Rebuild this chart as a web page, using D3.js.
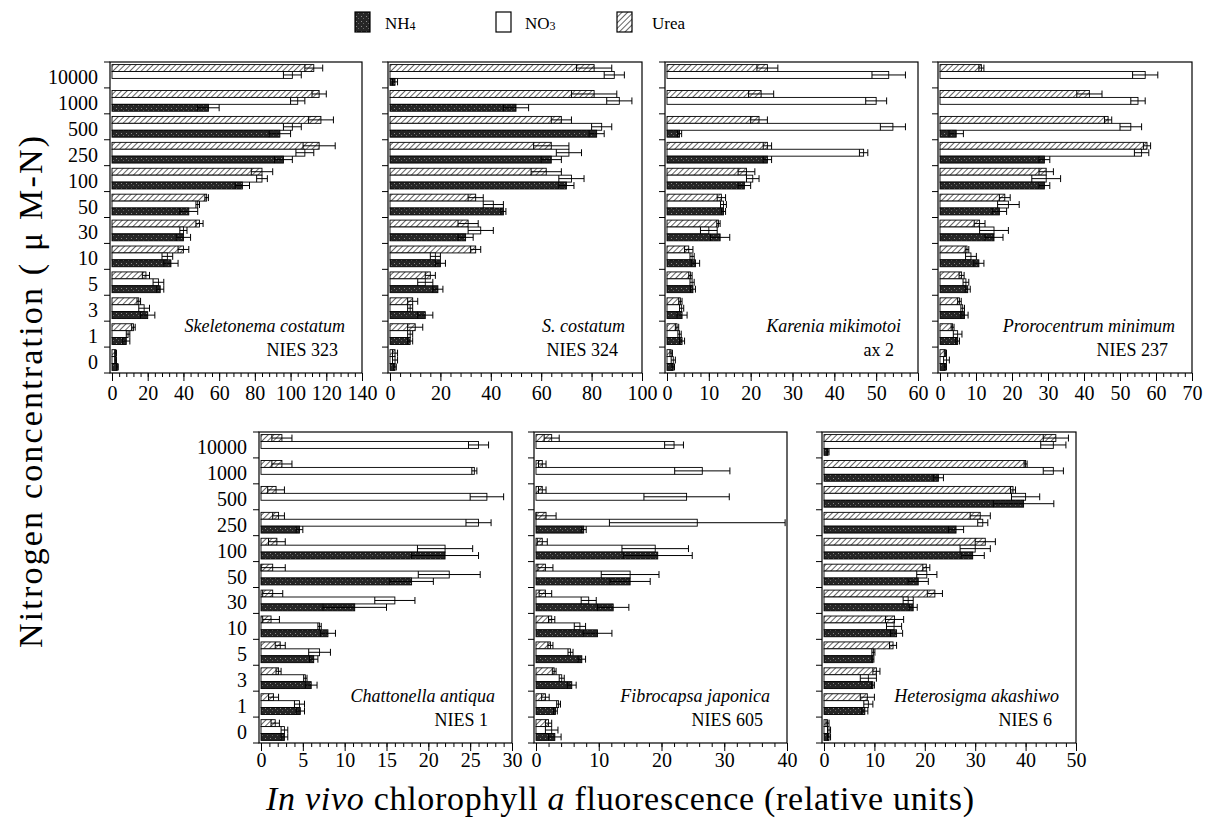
<!DOCTYPE html>
<html>
<head>
<meta charset="utf-8">
<script src="https://cdn.jsdelivr.net/npm/d3@7"></script>
<style>
  body { margin: 0; background: #fff; }
  svg, svg text { font-family: "Liberation Serif", "Times New Roman", serif !important; }
</style>
</head>
<body>
<div id="chart"></div>
<script>
// concentrations, top to bottom
const concentrations = ["10000", "1000", "500", "250", "100", "50", "30", "10", "5", "3", "1", "0"];
const seriesKeys = ["urea", "no3", "nh4"];

// [mean, sd], null = no growth / no bar
const p1Urea = [[113,5],[116,4],[117,7],[116,9],[84,6],[53,1],[49,2],[40,3],[19,2],[15,1],[12,1],[2,0.5]];
const p1No3  = [[101,5],[104,4],[101,5],[108,5],[84,3],[48,1],[40,2],[31,3],[26,3],[18,3],[9,1],[2,0.5]];
const p1Nh4  = [null,[54,6],[94,6],[96,5],[73,4],[43,5],[40,4],[33,4],[27,2],[20,4],[8,2],[3,0.5]];

const p2Urea = [[81,7],[81,9],[68,4],[64,7],[62,6],[34,3],[31,4],[34,2],[16,2],[9,2],[10,3],[2,1]];
const p2No3  = [[89,4],[91,5],[84,4],[71,5],[72,5],[41,4],[36,5],[18,2],[14,3],[8,1],[8,1],[2,1]];
const p2Nh4  = [[2,1],[50,5],[82,3],[64,4],[70,3],[45,1],[30,3],[20,2],[19,2],[14,3],[8,1],[2,0.5]];

const p3Urea = [[24,2.5],[22.5,3],[22,2],[24,1],[19,2],[13,1],[12.3,0.4],[5.2,1],[5.6,0.4],[3.2,0.4],[2.4,0.4],[1,0.3]];
const p3No3  = [[53,4],[50,2.5],[54,3],[47,1],[20.5,1.5],[13.5,0.7],[10,2],[6,0.5],[6,0.5],[3.5,0.5],[3,0.4],[1.5,0.5]];
const p3Nh4  = [null,null,[3,0.5],[24,1],[18.5,1.5],[13.5,0.5],[12.7,2.3],[6.8,1],[6.2,0.6],[3.6,1.2],[3.6,0.6],[1.5,0.3]];

const p4Urea = [[11.5,0.7],[41.5,3.5],[46.7,1],[57.5,1],[29.5,2],[18,1.5],[11,1.5],[7.5,0.5],[6,0.7],[5.4,0.5],[3.5,0.4],[1.5,0.3]];
const p4No3  = [[57,3.5],[55,2],[53,3],[56,2],[29.5,4],[19,3],[15,4],[8.6,1.5],[7.2,0.8],[6.3,0.5],[4.9,1.2],[1.8,0.8]];
const p4Nh4  = [null,null,[4.5,2],[29,1.5],[29,1.5],[16.5,2],[15,2.5],[10.8,1.4],[7.7,0.7],[6.8,1],[4.9,0.5],[1.5,0.3]];

const p5Urea = [[2.5,1.2],[2.5,1.2],[1.8,1],[2.1,0.7],[1.9,1],[1.4,1.5],[1.4,1.2],[1.2,1],[2.3,0.6],[2.1,0.3],[1.5,0.6],[1.7,0.5]];
const p5No3  = [[26,1.2],[25.5,0.3],[27,2],[26,1.5],[22,3.3],[22.5,3.7],[16,2.4],[7,0.2],[7,1.3],[5.3,0.2],[4.6,0.6],[2.8,0.4]];
const p5Nh4  = [null,null,null,[4.6,0.4],[22,4],[18,2.6],[11.2,3.8],[8,0.9],[6.3,0.5],[6,0.7],[4.7,0.5],[2.8,0.4]];

const p6Urea = [[2.5,1.2],[1,0.6],[1,0.6],[1.6,1.6],[1,0.8],[1.5,1.2],[1.5,1],[2.5,0.5],[2.3,0.4],[2.9,0.3],[1.5,0.6],[2,0.5]];
const p6No3  = [[22,1.5],[26.5,4.4],[24,6.8],[25.7,14],[19,5.3],[15,4.6],[8.4,1.2],[7,0.9],[5.5,0.4],[4.1,0.4],[3.6,0.3],[2.5,1]];
const p6Nh4  = [null,null,null,[7.6,0.4],[19.4,5.5],[15,3.2],[12.3,2.5],[9.8,2.3],[7.3,0.6],[5.7,0.7],[3.1,0.3],[3,1]];

const p7Urea = [[46,2.5],[40,0.3],[37.5,0.5],[31,2],[32,2],[20.3,0.7],[22,1.5],[14,1.8],[13.7,0.7],[10.4,0.7],[8.6,1.4],[0.7,0.3]];
const p7No3  = [[45.5,2.5],[45.5,2],[40,2.8],[31.5,1],[30,3],[20.4,2],[16.7,1],[13.9,1.5],[9.8,0.3],[8.8,1.6],[8.8,0.9],[1,0.3]];
const p7Nh4  = [[0.8,0.2],[22.7,1],[39.6,6],[26.2,1.5],[29.5,2.3],[18.7,2],[17.7,0.8],[14.4,1.2],[9.7,0.2],[9.7,0.3],[8.1,0.6],[1,0.3]];

const species = ["Skeletonema costatum", "S. costatum", "Karenia mikimotoi", "Prorocentrum minimum",
                 "Chattonella antiqua", "Fibrocapsa japonica", "Heterosigma akashiwo"];
const strains = ["NIES 323", "NIES 324", "ax 2", "NIES 237", "NIES 1", "NIES 605", "NIES 6"];
const xMaxes  = [140, 100, 60, 70, 30, 40, 50];
const xSteps  = [20, 20, 10, 10, 5, 10, 10];

const width = 1208, height = 827;
const serif = "Liberation Serif, Times New Roman, serif";

const svg = d3.select("#chart").append("svg")
    .attr("width", width)
    .attr("height", height)
    .attr("font-family", serif);

svg.append("rect").attr("width", width).attr("height", height).attr("fill", "#fff");

// patterns
const defs = svg.append("defs");
const hatch = defs.append("pattern")
    .attr("id", "hatch")
    .attr("patternUnits", "userSpaceOnUse")
    .attr("width", 4).attr("height", 4)
    .attr("patternTransform", "rotate(45)");
hatch.append("rect").attr("width", 4).attr("height", 4).attr("fill", "#fff");
hatch.append("line").attr("x1", 0).attr("y1", 0).attr("x2", 0).attr("y2", 4)
    .attr("stroke", "#111").attr("stroke-width", 1.3);

const stip = defs.append("pattern")
    .attr("id", "stipple")
    .attr("patternUnits", "userSpaceOnUse")
    .attr("width", 5).attr("height", 5);
stip.append("rect").attr("width", 5).attr("height", 5).attr("fill", "#262626");
stip.append("rect").attr("x", 1).attr("y", 1).attr("width", 1).attr("height", 1).attr("fill", "#8a8a8a");
stip.append("rect").attr("x", 3).attr("y", 3).attr("width", 1).attr("height", 1).attr("fill", "#666");

const fills = { urea: "url(#hatch)", no3: "#fff", nh4: "url(#stipple)" };

// panel boxes (left, right, top), plot height
const panelH = 311;
const boxes = [
    { left: 110, right: 362, top: 62, yLabels: true, pad: 5 },
    { left: 388, right: 642, top: 62, yLabels: false, pad: 5 },
    { left: 665, right: 918, top: 62, yLabels: false, pad: 5 },
    { left: 938, right: 1192, top: 62, yLabels: false, pad: 5 },
    { left: 259, right: 512, top: 432, yLabels: true, pad: 2 },
    { left: 534, right: 787, top: 432, yLabels: false, pad: 2 },
    { left: 822, right: 1076, top: 432, yLabels: false, pad: 2 }
];
const panelData = [
    { urea: p1Urea, no3: p1No3, nh4: p1Nh4 },
    { urea: p2Urea, no3: p2No3, nh4: p2Nh4 },
    { urea: p3Urea, no3: p3No3, nh4: p3Nh4 },
    { urea: p4Urea, no3: p4No3, nh4: p4Nh4 },
    { urea: p5Urea, no3: p5No3, nh4: p5Nh4 },
    { urea: p6Urea, no3: p6No3, nh4: p6Nh4 },
    { urea: p7Urea, no3: p7No3, nh4: p7Nh4 }
];

function drawPanel(i) {
    const b = boxes[i], w = b.right - b.left, h = panelH;
    const g = svg.append("g").attr("transform", "translate(" + b.left + "," + b.top + ")");

    const x = d3.scaleLinear().domain([0, xMaxes[i]]).range([2, w]);
    const y = d3.scaleBand().domain(concentrations).range([0, h])
        .paddingInner(0.2).paddingOuter(0.1);
    const ys = d3.scaleBand().domain(seriesKeys).range([0, y.bandwidth()]);

    // bars
    seriesKeys.forEach(function (s) {
        const rows = panelData[i][s].map(function (d, k) { return { c: concentrations[k], d: d }; })
            .filter(function (r) { return r.d; });
        g.append("g").selectAll("rect").data(rows).enter().append("rect")
            .attr("x", x(0))
            .attr("y", function (r) { return y(r.c) + ys(s); })
            .attr("width", function (r) { return x(r.d[0]) - x(0); })
            .attr("height", ys.bandwidth())
            .attr("fill", fills[s])
            .attr("stroke", "#000")
            .attr("stroke-width", 0.9);
    });

    // error bars
    seriesKeys.forEach(function (s) {
        const rows = panelData[i][s].map(function (d, k) { return { c: concentrations[k], d: d }; })
            .filter(function (r) { return r.d; });
        const eg = g.append("g").attr("stroke", "#000").attr("stroke-width", 1);
        const yc = function (r) { return y(r.c) + ys(s) + ys.bandwidth() / 2; };
        const lo = function (r) { return x(Math.max(0, r.d[0] - r.d[1])); };
        const hi = function (r) { return x(Math.min(xMaxes[i], r.d[0] + r.d[1])); };
        const half = ys.bandwidth() / 2;
        eg.selectAll(".eb").data(rows).enter().append("line")
            .attr("x1", lo).attr("x2", hi).attr("y1", yc).attr("y2", yc);
        eg.selectAll(".cl").data(rows).enter().append("line")
            .attr("x1", lo).attr("x2", lo)
            .attr("y1", function (r) { return yc(r) - half; })
            .attr("y2", function (r) { return yc(r) + half; });
        eg.selectAll(".ch").data(rows).enter().append("line")
            .attr("x1", hi).attr("x2", hi)
            .attr("y1", function (r) { return yc(r) - half; })
            .attr("y2", function (r) { return yc(r) + half; });
    });

    // frame
    g.append("rect").attr("x", 0).attr("y", 0).attr("width", w).attr("height", h)
        .attr("fill", "none").attr("stroke", "#000").attr("stroke-width", 1.2);

    // x axis: minor + major ticks
    const minor = g.append("g").attr("transform", "translate(0," + h + ")")
        .call(d3.axisBottom(x).tickValues(d3.range(0, xMaxes[i] + 1e-9, xSteps[i] / 5))
            .tickSize(4).tickFormat(""));
    minor.select(".domain").remove();
    const major = g.append("g").attr("transform", "translate(0," + h + ")")
        .call(d3.axisBottom(x).tickValues(d3.range(0, xMaxes[i] + 1e-9, xSteps[i]))
            .tickSize(8).tickPadding(b.pad));
    major.select(".domain").remove();
    major.attr("font-family", serif).attr("font-size", 20);
    major.selectAll("text").attr("fill", "#000");
    g.selectAll(".tick line").attr("stroke", "#000");

    // y ticks at band boundaries
    const bounds = concentrations.map(function (c) { return y(c) - y.step() * y.paddingInner() / 2; });
    bounds.push(h);
    g.append("g").selectAll("line").data(bounds).enter().append("line")
        .attr("x1", -6).attr("x2", 0)
        .attr("y1", function (d) { return d; }).attr("y2", function (d) { return d; })
        .attr("stroke", "#000");

    if (b.yLabels) {
        const ya = g.append("g").call(d3.axisLeft(y).tickSize(0).tickPadding(12));
        ya.select(".domain").remove();
        ya.attr("font-family", serif).attr("font-size", 20);
        ya.selectAll("text").attr("fill", "#000").attr("dy", "0.45em");
    }

    // species / strain labels
    g.append("text").attr("x", w - 17).attr("y", h - 41)
        .attr("text-anchor", "end").attr("font-size", 18).attr("font-style", "italic")
        .text(species[i]);
    g.append("text").attr("x", w - 24).attr("y", h - 17)
        .attr("text-anchor", "end").attr("font-size", 18)
        .text(strains[i]);
}

for (let i = 0; i < 7; i++) drawPanel(i);

// legend
const legend = [
    { key: "nh4", label: "NH", sub: "4", bx: 355, tx: 385 },
    { key: "no3", label: "NO", sub: "3", bx: 496, tx: 525 },
    { key: "urea", label: "Urea", sub: "", bx: 617, tx: 652 }
];
legend.forEach(function (l) {
    svg.append("rect").attr("x", l.bx).attr("y", 12).attr("width", 15).attr("height", 20)
        .attr("fill", fills[l.key]).attr("stroke", "#000").attr("stroke-width", 1.2);
    const t = svg.append("text").attr("x", l.tx).attr("y", 29).attr("font-size", 17).text(l.label);
    if (l.sub) t.append("tspan").attr("font-size", 12).attr("dy", 1).text(l.sub);
});

// axis titles
svg.append("text")
    .attr("transform", "translate(42,392) rotate(-90)")
    .attr("text-anchor", "middle")
    .attr("font-size", 34)
    .attr("textLength", 512)
    .text("Nitrogen concentration ( \u03bc M-N)");

const xt = svg.append("text")
    .attr("x", 620).attr("y", 810)
    .attr("text-anchor", "middle")
    .attr("font-size", 34)
    .attr("textLength", 708);
xt.append("tspan").attr("font-style", "italic").text("In vivo");
xt.append("tspan").text(" chlorophyll ");
xt.append("tspan").attr("font-style", "italic").text("a");
xt.append("tspan").text(" fluorescence (relative units)");
</script>
</body>
</html>
